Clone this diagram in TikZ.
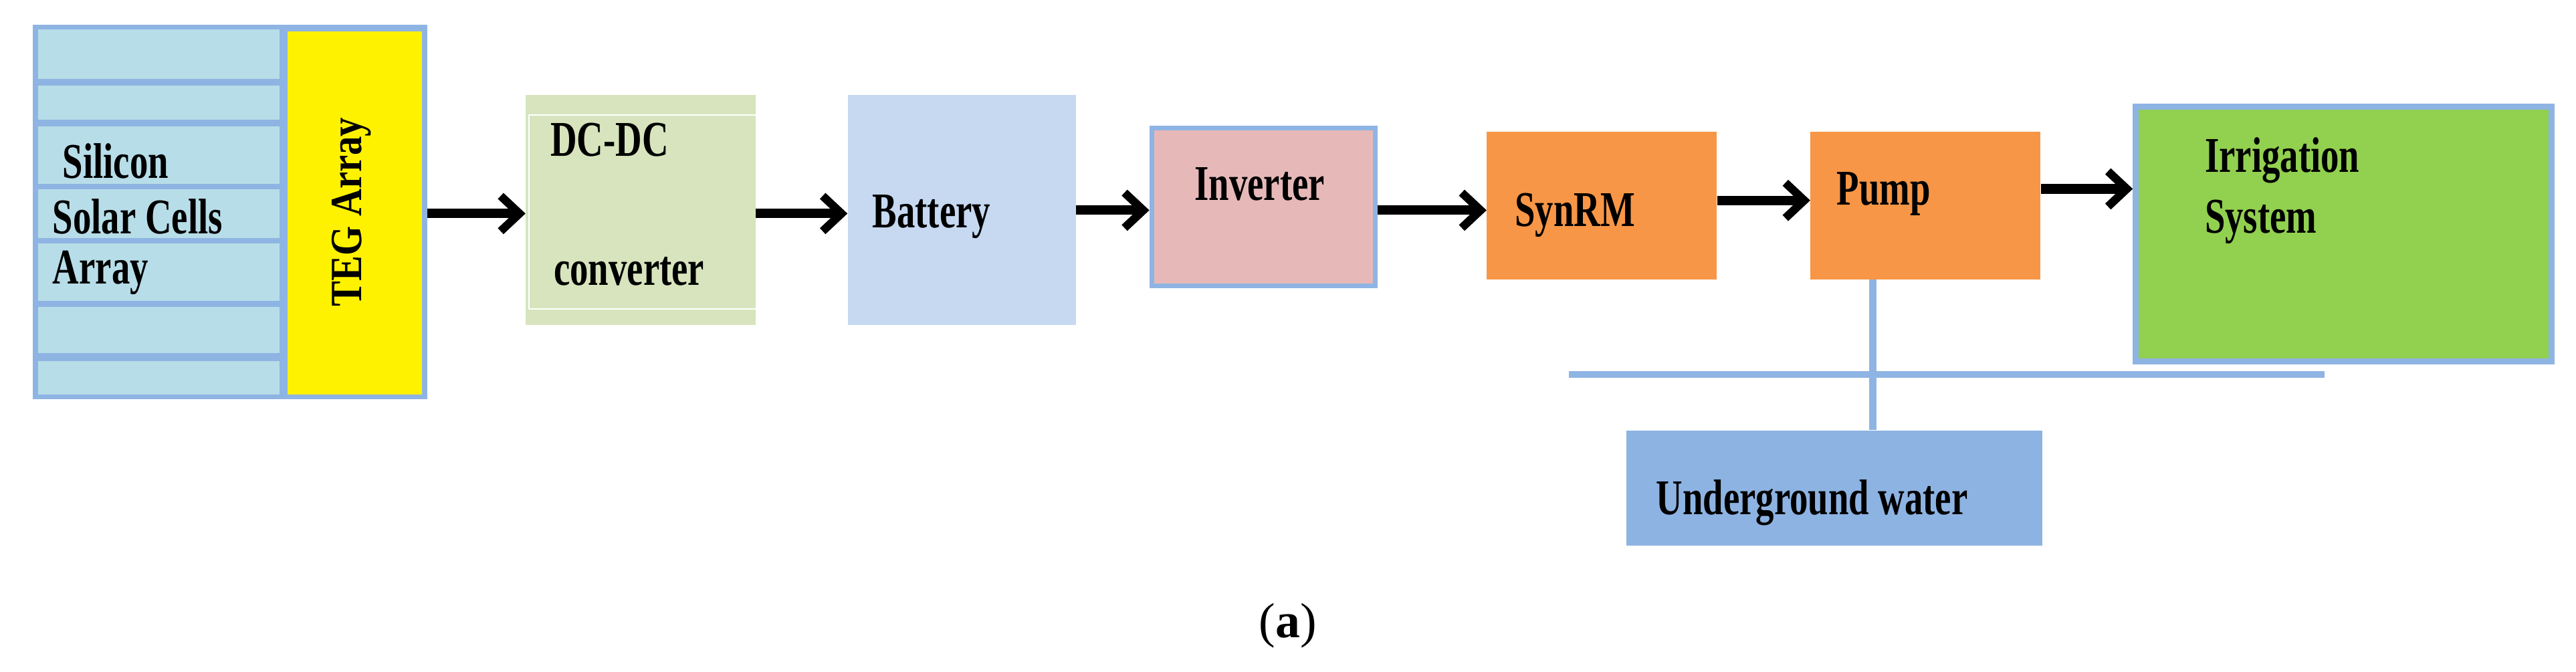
\documentclass[tikz,border=0pt]{standalone}
\usepackage{fontspec}
\setmainfont{Liberation Serif}
\usetikzlibrary{arrows.meta}
\definecolor{cellb}{HTML}{B7DDE8}
\definecolor{edgeb}{HTML}{8EB4E3}
\definecolor{dcg}{HTML}{D7E4BD}
\definecolor{batb}{HTML}{C6D9F1}
\definecolor{invp}{HTML}{E6B9B8}
\definecolor{orng}{HTML}{F79646}
\definecolor{grn}{HTML}{92D050}
\definecolor{uw}{HTML}{8DB3E2}
\begin{document}
\begin{tikzpicture}[x=0.04914cm,y=-0.04914cm,
  lbl/.style={font=\fontsize{38}{46}\selectfont\bfseries,align=left,anchor=west,inner sep=0,xscale=0.82,yscale=1.12},
  arr/.style={line width=8pt,-{Straight Barb[length=16pt,width=30pt,line width=7pt]}},
  pipe/.style={draw=edgeb,line width=6pt}]
\useasboundingbox (0,0) rectangle (1568,409);
% left panel
\fill[edgeb] (20,15) rectangle (260,243);
\foreach \a/\b in {18/48,52/73,77/112,115/145,148/183,187/215,220/240}
  \fill[cellb] (23,\a) rectangle (170,\b);
\fill[yellow] (175,19) rectangle (257,240);
\node[lbl] (sil) at (38,98) {Silicon};
\node[lbl] (sol) at (32,132) {Solar Cells};
\node[lbl] (arr) at (32,166) {Array};
\node[font=\fontsize{38}{46}\selectfont\bfseries,rotate=90,xscale=0.85] (teg) at (214,129) {TEG Array};
\coordinate (left) at (260,130);
\node[fill=dcg,minimum width=140*0.04914cm,minimum height=140*0.04914cm,inner sep=0] (dc) at (390,128) {};
\draw[white,line width=1pt] (322,70) rectangle (470,188);
\node[lbl] (dct) at (335,85) {DC-DC};
\node[lbl] (dcb) at (337,165) {converter};
\node[fill=batb,minimum width=139*0.04914cm,minimum height=140*0.04914cm,inner sep=0] (bat) at (585.5,128) {};
\node[lbl] (batt) at (531,132) {Battery};
\node[fill=invp,draw=edgeb,line width=4pt,minimum width=136*0.04914cm,minimum height=96*0.04914cm,inner sep=0] (inv) at (769,126) {};
\node[lbl] (invt) at (727,112) {Inverter};
\node[fill=orng,minimum width=140*0.04914cm,minimum height=90*0.04914cm,inner sep=0] (syn) at (975,125) {};
\node[lbl] (synt) at (922,131) {SynRM};
\node[fill=orng,minimum width=140*0.04914cm,minimum height=90*0.04914cm,inner sep=0] (pump) at (1172,125) {};
\node[lbl] (pumpt) at (1118,118) {Pump};
\node[fill=grn,draw=edgeb,line width=5pt,minimum width=253*0.04914cm,minimum height=155*0.04914cm,inner sep=0] (irr) at (1426.5,142.5) {};
\node[lbl] (irrt) at (1342,116) {Irrigation\\System};
\node[fill=uw,minimum width=253*0.04914cm,minimum height=70*0.04914cm,inner sep=0] (uw) at (1116.5,297) {};
\node[lbl] (uwt) at (1008,306) {Underground water};
\coordinate (g1) at (955,228); \coordinate (g2) at (1415,228);
\draw[pipe] (g1) -- (g2);
\draw[pipe] (pump.south -| 1140,0) -- (uw.north -| 1140,0);
\draw[arr] (left) -- (dc.west |- 0,130);
\draw[arr] (dc.east |- 0,130) -- (bat.west |- 0,130);
\draw[arr] (bat.east |- 0,128) -- (inv.west |- 0,128);
\draw[arr] (inv.east |- 0,128) -- (syn.west |- 0,128);
\draw[arr] (syn.east |- 0,122) -- (pump.west |- 0,122);
\draw[arr] (pump.east |- 0,115) -- (irr.west |- 0,115);
\node[font=\fontsize{42}{50}\selectfont] (cap) at (784,381) {(\textbf{a})};
\end{tikzpicture}
\end{document}
